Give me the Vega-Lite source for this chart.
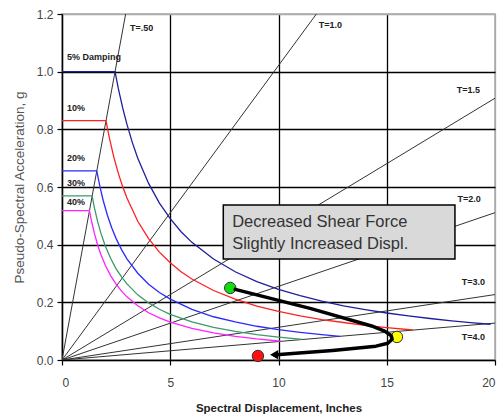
{
  "$schema": "https://vega.github.io/schema/vega-lite/v6.json",
  "width": 433,
  "height": 346,
  "autosize": {"type": "none"},
  "padding": {"left": 62, "top": 14, "right": 6, "bottom": 60},
  "background": "white",
  "config": {
    "view": {"stroke": "#aaaaaa", "strokeWidth": 1.5},
    "font": "Liberation Sans"
  },
  "datasets": {
    "periods": [
      {"T": "0.5", "x": 0, "y": 0}, {"T": "0.5", "x": 2.94, "y": 1.2},
      {"T": "1.0", "x": 0, "y": 0}, {"T": "1.0", "x": 11.75, "y": 1.2},
      {"T": "1.5", "x": 0, "y": 0}, {"T": "1.5", "x": 20, "y": 0.908},
      {"T": "2.0", "x": 0, "y": 0}, {"T": "2.0", "x": 20, "y": 0.511},
      {"T": "3.0", "x": 0, "y": 0}, {"T": "3.0", "x": 20, "y": 0.227},
      {"T": "4.0", "x": 0, "y": 0}, {"T": "4.0", "x": 20, "y": 0.128}
    ],
    "spectra": [
      {"d": "5%", "x": 0, "y": 1.0}, {"d": "5%", "x": 2.45, "y": 1.0}, {"d": "5%", "x": 2.6, "y": 0.942}, {"d": "5%", "x": 2.8, "y": 0.875}, {"d": "5%", "x": 3, "y": 0.817}, {"d": "5%", "x": 3.25, "y": 0.754}, {"d": "5%", "x": 3.5, "y": 0.7}, {"d": "5%", "x": 4, "y": 0.6125}, {"d": "5%", "x": 4.5, "y": 0.544}, {"d": "5%", "x": 5, "y": 0.49}, {"d": "5%", "x": 5.5, "y": 0.445}, {"d": "5%", "x": 6, "y": 0.408}, {"d": "5%", "x": 7, "y": 0.35}, {"d": "5%", "x": 8, "y": 0.306}, {"d": "5%", "x": 9, "y": 0.272}, {"d": "5%", "x": 10, "y": 0.245}, {"d": "5%", "x": 11, "y": 0.223}, {"d": "5%", "x": 12, "y": 0.204}, {"d": "5%", "x": 13, "y": 0.188}, {"d": "5%", "x": 14, "y": 0.175}, {"d": "5%", "x": 15, "y": 0.163}, {"d": "5%", "x": 16, "y": 0.153}, {"d": "5%", "x": 17, "y": 0.144}, {"d": "5%", "x": 18, "y": 0.136}, {"d": "5%", "x": 19, "y": 0.129}, {"d": "5%", "x": 19.8, "y": 0.124},
      {"d": "10%", "x": 0, "y": 0.83}, {"d": "10%", "x": 2.03, "y": 0.83}, {"d": "10%", "x": 2.2, "y": 0.766}, {"d": "10%", "x": 2.4, "y": 0.702}, {"d": "10%", "x": 2.6, "y": 0.648}, {"d": "10%", "x": 2.8, "y": 0.602}, {"d": "10%", "x": 3, "y": 0.562}, {"d": "10%", "x": 3.5, "y": 0.481}, {"d": "10%", "x": 4, "y": 0.421}, {"d": "10%", "x": 4.5, "y": 0.374}, {"d": "10%", "x": 5, "y": 0.337}, {"d": "10%", "x": 5.5, "y": 0.306}, {"d": "10%", "x": 6, "y": 0.281}, {"d": "10%", "x": 7, "y": 0.241}, {"d": "10%", "x": 8, "y": 0.211}, {"d": "10%", "x": 9, "y": 0.187}, {"d": "10%", "x": 10, "y": 0.1685}, {"d": "10%", "x": 11, "y": 0.153}, {"d": "10%", "x": 12, "y": 0.14}, {"d": "10%", "x": 13, "y": 0.13}, {"d": "10%", "x": 14, "y": 0.12}, {"d": "10%", "x": 15, "y": 0.112}, {"d": "10%", "x": 16.2, "y": 0.104},
      {"d": "20%", "x": 0, "y": 0.656}, {"d": "20%", "x": 1.605, "y": 0.656}, {"d": "20%", "x": 1.75, "y": 0.602}, {"d": "20%", "x": 1.9, "y": 0.554}, {"d": "20%", "x": 2.1, "y": 0.501}, {"d": "20%", "x": 2.3, "y": 0.458}, {"d": "20%", "x": 2.5, "y": 0.421}, {"d": "20%", "x": 2.75, "y": 0.383}, {"d": "20%", "x": 3, "y": 0.351}, {"d": "20%", "x": 3.5, "y": 0.301}, {"d": "20%", "x": 4, "y": 0.263}, {"d": "20%", "x": 4.5, "y": 0.234}, {"d": "20%", "x": 5, "y": 0.211}, {"d": "20%", "x": 6, "y": 0.1755}, {"d": "20%", "x": 7, "y": 0.15}, {"d": "20%", "x": 8, "y": 0.132}, {"d": "20%", "x": 9, "y": 0.117}, {"d": "20%", "x": 10, "y": 0.105}, {"d": "20%", "x": 11, "y": 0.0957}, {"d": "20%", "x": 12, "y": 0.0878}, {"d": "20%", "x": 12.84, "y": 0.082},
      {"d": "30%", "x": 0, "y": 0.569}, {"d": "30%", "x": 1.39, "y": 0.569}, {"d": "30%", "x": 1.5, "y": 0.527}, {"d": "30%", "x": 1.65, "y": 0.479}, {"d": "30%", "x": 1.8, "y": 0.439}, {"d": "30%", "x": 2, "y": 0.3955}, {"d": "30%", "x": 2.25, "y": 0.352}, {"d": "30%", "x": 2.5, "y": 0.316}, {"d": "30%", "x": 2.75, "y": 0.288}, {"d": "30%", "x": 3, "y": 0.264}, {"d": "30%", "x": 3.5, "y": 0.226}, {"d": "30%", "x": 4, "y": 0.198}, {"d": "30%", "x": 4.5, "y": 0.176}, {"d": "30%", "x": 5, "y": 0.158}, {"d": "30%", "x": 6, "y": 0.132}, {"d": "30%", "x": 7, "y": 0.113}, {"d": "30%", "x": 8, "y": 0.099}, {"d": "30%", "x": 9, "y": 0.0879}, {"d": "30%", "x": 10, "y": 0.0791}, {"d": "30%", "x": 11.1, "y": 0.0713},
      {"d": "40%", "x": 0, "y": 0.518}, {"d": "40%", "x": 1.268, "y": 0.518}, {"d": "40%", "x": 1.38, "y": 0.476}, {"d": "40%", "x": 1.5, "y": 0.438}, {"d": "40%", "x": 1.65, "y": 0.398}, {"d": "40%", "x": 1.8, "y": 0.365}, {"d": "40%", "x": 2, "y": 0.3285}, {"d": "40%", "x": 2.25, "y": 0.292}, {"d": "40%", "x": 2.5, "y": 0.263}, {"d": "40%", "x": 2.75, "y": 0.239}, {"d": "40%", "x": 3, "y": 0.219}, {"d": "40%", "x": 3.5, "y": 0.188}, {"d": "40%", "x": 4, "y": 0.164}, {"d": "40%", "x": 4.5, "y": 0.146}, {"d": "40%", "x": 5, "y": 0.131}, {"d": "40%", "x": 6, "y": 0.1095}, {"d": "40%", "x": 7, "y": 0.0939}, {"d": "40%", "x": 8, "y": 0.0821}, {"d": "40%", "x": 9, "y": 0.073}, {"d": "40%", "x": 10.1, "y": 0.065}
    ],
    "labels": [
      {"t": "T=.50", "x": 3.14, "y": 1.151},
      {"t": "T=1.0", "x": 11.86, "y": 1.162},
      {"t": "T=1.5", "x": 18.23, "y": 0.937},
      {"t": "T=2.0", "x": 18.27, "y": 0.558},
      {"t": "T=3.0", "x": 18.46, "y": 0.27},
      {"t": "T=4.0", "x": 18.46, "y": 0.08},
      {"t": "5% Damping", "x": 0.23, "y": 1.05},
      {"t": "10%", "x": 0.23, "y": 0.874},
      {"t": "20%", "x": 0.23, "y": 0.70},
      {"t": "30%", "x": 0.23, "y": 0.614},
      {"t": "40%", "x": 0.23, "y": 0.548}
    ],
    "box": [{"x1": 7.45, "x2": 18.15, "y1": 0.35, "y2": 0.538}],
    "boxtext": [
      {"t": "Decreased Shear Force", "x": 7.86, "y": 0.479},
      {"t": "Slightly Increased Displ.", "x": 7.86, "y": 0.402}
    ],
    "pts": [
      {"p": "start", "x": 7.77, "y": 0.25},
      {"p": "mid", "x": 15.47, "y": 0.08},
      {"p": "end", "x": 9.05, "y": 0.014}
    ],
    "path": [
      {"o": 1, "x": 8.0, "y": 0.245},
      {"o": 2, "x": 11.5, "y": 0.178},
      {"o": 3, "x": 14.3, "y": 0.118},
      {"o": 4, "x": 14.9, "y": 0.1},
      {"o": 5, "x": 15.2, "y": 0.085},
      {"o": 6, "x": 15.25, "y": 0.072},
      {"o": 7, "x": 15.05, "y": 0.058},
      {"o": 8, "x": 14.5, "y": 0.048},
      {"o": 9, "x": 12.5, "y": 0.033},
      {"o": 10, "x": 10.8, "y": 0.023},
      {"o": 11, "x": 9.9, "y": 0.018}
    ],
    "head": [{"x": 9.8, "y": 0.018}]
  },
  "encoding": {
    "x": {
      "field": "x", "type": "quantitative",
      "scale": {"domain": [0, 20], "nice": false, "zero": false},
      "axis": {
        "values": [0, 5, 10, 15, 20],
        "grid": true,
        "gridColor": {"condition": {"test": "datum.value == 20 || datum.value == 0", "value": "#aaaaaa"}, "value": "#000000"},
        "gridWidth": 1.3,
        "domainColor": "#000000", "domainWidth": 1.5,
        "tickColor": "#000000", "tickSize": 5, "tickWidth": 1.2,
        "labelFont": "Liberation Sans", "labelFontSize": 12, "labelColor": "#444444", "labelPadding": 12,
        "title": "Spectral Displacement, Inches",
        "titleFont": "Liberation Sans", "titleFontSize": 11.5, "titleFontWeight": "bold", "titleColor": "#222222", "titlePadding": 14
      }
    },
    "y": {
      "field": "y", "type": "quantitative",
      "scale": {"domain": [0, 1.2], "nice": false, "zero": false},
      "axis": {
        "values": [0, 0.2, 0.4, 0.6, 0.8, 1.0, 1.2],
        "format": ".1f",
        "grid": true,
        "gridColor": {"condition": {"test": "datum.value > 1.1 || datum.value == 0", "value": "#aaaaaa"}, "value": "#000000"},
        "gridWidth": 1.3,
        "domainColor": "#000000", "domainWidth": 1.5,
        "tickColor": "#000000", "tickSize": 5, "tickWidth": 1.2,
        "labelFont": "Liberation Sans", "labelFontSize": 12, "labelColor": "#444444", "labelPadding": 4,
        "title": "Pseudo-Spectral Acceleration, g",
        "titleFont": "Liberation Sans", "titleFontSize": 13.5, "titleFontWeight": "normal", "titleColor": "#555555", "titlePadding": 10
      }
    }
  },
  "layer": [
    {
      "data": {"name": "periods"},
      "mark": {"type": "line", "color": "#333333", "strokeWidth": 1, "clip": true},
      "encoding": {"detail": {"field": "T"}, "order": {"field": "x", "type": "quantitative"}}
    },
    {
      "data": {"name": "spectra"},
      "mark": {"type": "line", "strokeWidth": 1.3, "clip": true},
      "encoding": {
        "color": {"field": "d", "type": "nominal", "legend": null,
          "scale": {"domain": ["5%", "10%", "20%", "30%", "40%"], "range": ["#1f1f9c", "#ff2020", "#2a2aff", "#3a9a6a", "#ff22ff"]}},
        "order": {"field": "x", "type": "quantitative"}
      }
    },
    {
      "data": {"name": "box"},
      "mark": {"type": "rect", "fill": "#d9d9d9", "stroke": "#000000", "strokeWidth": 1.5},
      "encoding": {
        "x": {"field": "x1", "type": "quantitative"},
        "x2": {"field": "x2"},
        "y": {"field": "y1", "type": "quantitative"},
        "y2": {"field": "y2"}
      }
    },
    {
      "data": {"name": "boxtext"},
      "mark": {"type": "text", "align": "left", "baseline": "middle", "fontSize": 16.5, "color": "#333333", "font": "Liberation Sans"},
      "encoding": {"text": {"field": "t"}}
    },
    {
      "data": {"name": "labels"},
      "mark": {"type": "text", "align": "left", "baseline": "middle", "fontSize": 9, "fontWeight": "bold", "color": "#222222", "font": "Liberation Sans"},
      "encoding": {"text": {"field": "t"}}
    },
    {
      "data": {"name": "pts"},
      "mark": {"type": "point", "filled": true, "size": 130, "stroke": "#333333", "strokeWidth": 1, "opacity": 1},
      "encoding": {
        "fill": {"field": "p", "type": "nominal", "legend": null,
          "scale": {"domain": ["start", "mid", "end"], "range": ["#11dd11", "#ffff00", "#ff1111"]}}
      }
    },
    {
      "data": {"name": "path"},
      "mark": {"type": "line", "color": "#000000", "strokeWidth": 3.5, "interpolate": "linear", "strokeCap": "round", "strokeJoin": "round"},
      "encoding": {"order": {"field": "o", "type": "quantitative"}}
    },
    {
      "data": {"name": "head"},
      "mark": {"type": "point", "shape": "triangle-left", "filled": true, "color": "#000000", "size": 90, "opacity": 1},
      "encoding": {}
    }
  ]
}
